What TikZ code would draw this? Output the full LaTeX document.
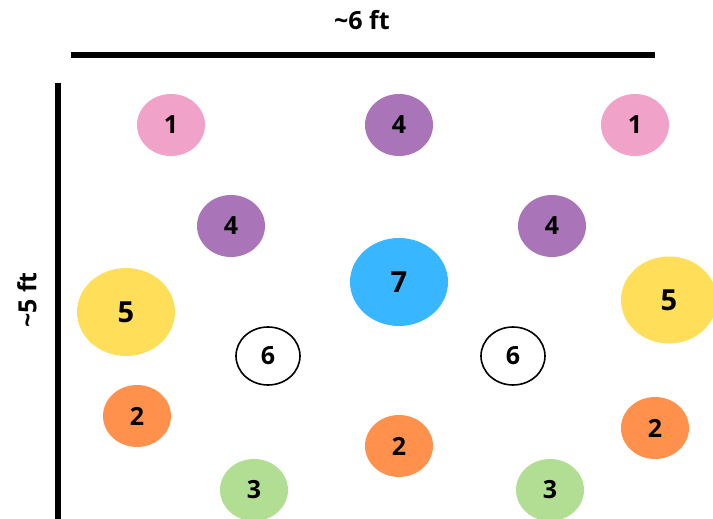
\documentclass[tikz,border=0pt]{standalone}
\usepackage{fontspec}
\setmainfont{Open Sans}
\usetikzlibrary{shapes.geometric}
\definecolor{cpink}{HTML}{F1A2C9}
\definecolor{cpurple}{HTML}{A974B8}
\definecolor{cblue}{HTML}{38B6FF}
\definecolor{cyellow}{HTML}{FFDE59}
\definecolor{corange}{HTML}{FF914D}
\definecolor{cgreen}{HTML}{B2DE93}
\tikzset{
  spot/.style={ellipse, inner sep=0pt, minimum width=68pt, minimum height=62pt,
    font=\fontsize{25}{25}\selectfont\bfseries, text=black},
  bigspot/.style={spot, minimum width=98pt, minimum height=88pt,
    font=\fontsize{29}{29}\selectfont\bfseries},
  ring/.style={spot, draw=black, line width=1.6pt, fill=white, minimum width=64pt, minimum height=58pt},
  bar/.style={line width=6.5pt, black},
  dimlabel/.style={font=\fontsize{25}{25}\selectfont\bfseries}
}
\begin{document}
\begin{tikzpicture}[x=1pt,y=-1pt]
\useasboundingbox[fill=white] (0,0) rectangle (713,519);
\coordinate (tl) at (71,55);
\coordinate (tr) at (655,55);
\coordinate (lt) at (58,83);
\coordinate (lb) at (58,525);
\draw[bar] (tl) -- (tr);
\draw[bar] (lt) -- (lb);
\node[dimlabel] (w) at (362,20) {\char`\~6 ft};
\node[dimlabel, rotate=90] (h) at (27,300) {\char`\~5 ft};
\node[spot, fill=cpink] (p1) at (171,125) {1};
\node[spot, fill=cpurple] (u1) at (399,125) {4};
\node[spot, fill=cpink] (p2) at (635,125) {1};
\node[spot, fill=cpurple] (u2) at (231,226) {4};
\node[spot, fill=cpurple] (u3) at (552,226) {4};
\node[bigspot, fill=cblue] (b) at (399,282) {7};
\node[bigspot, fill=cyellow] (y1) at (126,312) {5};
\node[bigspot, fill=cyellow, minimum width=96pt, minimum height=87pt] (y2) at (669,300) {5};
\node[ring] (r1) at (268,356) {6};
\node[ring] (r2) at (513,356) {6};
\node[spot, fill=corange] (o1) at (137,416) {2};
\node[spot, fill=corange] (o2) at (399,446) {2};
\node[spot, fill=corange] (o3) at (655,428) {2};
\node[spot, fill=cgreen] (g1) at (254,490) {3};
\node[spot, fill=cgreen] (g2) at (550,490) {3};
\end{tikzpicture}
\end{document}
